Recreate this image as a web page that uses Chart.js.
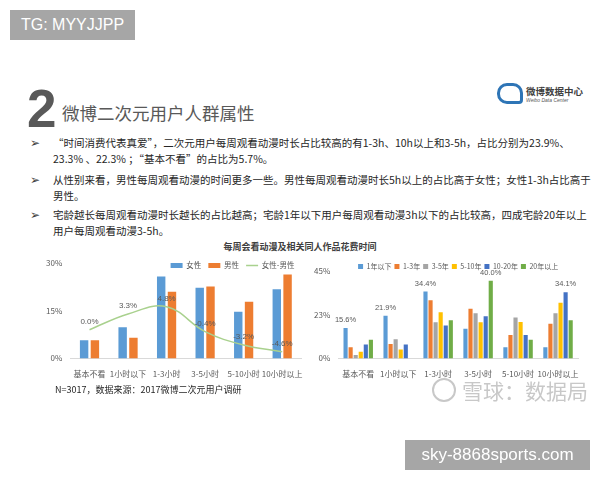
<!DOCTYPE html>
<html>
<head>
<meta charset="utf-8">
<script src="https://cdn.jsdelivr.net/npm/chart.js@4.4.1/dist/chart.umd.min.js"></script>
<style>
  body { margin: 0; width: 600px; height: 480px; background: #fff; position: relative; overflow: hidden;
         font-family: "Noto Sans CJK SC", "Noto Sans", sans-serif; }
  .abs { position: absolute; white-space: nowrap; }
  .tag { background: #a6a6a6; color: #fff; font-family: "Liberation Sans", Arial, sans-serif; }
  #tg { left: 10px; top: 10px; width: 125px; height: 30px; line-height: 30px; font-size: 16px; text-align: center; }
  #site { left: 405px; top: 440px; width: 185px; height: 30px; line-height: 30px; font-size: 17px; text-align: center; }
  #num { left: 27px; top: 82px; font-family: "Liberation Sans", Arial, sans-serif; font-weight: bold;
         font-size: 53px; line-height: 53px; color: #595959; }
  #head { left: 62px; top: 101px; font-size: 17.5px; line-height: 24px; color: #595959; }
  .bul { left: 30px; font-size: 10.5px; line-height: 15.5px; color: #262626; }
  .bul span { position: absolute; left: 0; top: -1px; font-size: 12px; color: #404040; }
  .bul div { margin-left: 23px; }
  #ctitle { left: 0; width: 600px; top: 240px; text-align: center; font-size: 9px; font-weight: bold; color: #404040; }
  #left { left: 38px; top: 250px; width: 268px; height: 134px; }
  #right { left: 306px; top: 258px; width: 276px; height: 126px; }
  #note { left: 55px; top: 383px; font-size: 9px; color: #262626; }
  #wm { left: 432px; top: 376px; font-size: 21px; line-height: 28px; color: #c8c8c8; }
  #wm i { display: inline-block; width: 20px; height: 20px; border: 2px solid #c8c8c8; border-radius: 50%;
          vertical-align: -3px; margin-right: 6px; }
  #logo { left: 497px; top: 83px; }
  #logo b { display: inline-block; width: 20px; height: 15px; border: 3px solid #2e75b6; border-radius: 10px 10px 4px 10px;
            vertical-align: top; }
  #logo .t1 { position: absolute; left: 29px; top: 1px; font-size: 9.5px; font-weight: bold; color: #404040; }
  #logo .t2 { position: absolute; left: 29px; top: 14px; font-size: 5px; font-family: "Liberation Sans", sans-serif; color: #595959; font-style: italic; }
</style>
</head>
<body>
<div class="abs tag" id="tg">TG: MYYJJPP</div>
<div class="abs" id="logo"><b></b><span class="t1">微博数据中心</span><span class="t2">Weibo Data Center</span></div>
<div class="abs" id="num">2</div>
<div class="abs" id="head">微博二次元用户人群属性</div>

<div class="abs bul" style="top:135px"><span>➢</span>
  <div>“时间消费代表真爱”，二次元用户每周观看动漫时长占比较高的有1-3h、10h以上和3-5h，占比分别为23.9%、</div>
  <div>23.3% 、22.3% ；“基本不看”的占比为5.7%。</div>
</div>
<div class="abs bul" style="top:172px"><span>➢</span>
  <div>从性别来看，男性每周观看动漫的时间更多一些。男性每周观看动漫时长5h以上的占比高于女性；女性1-3h占比高于</div>
  <div>男性。</div>
</div>
<div class="abs bul" style="top:207px"><span>➢</span>
  <div>宅龄越长每周观看动漫时长越长的占比越高；宅龄1年以下用户每周观看动漫3h以下的占比较高，四成宅龄20年以上</div>
  <div>用户每周观看动漫3-5h。</div>
</div>

<div class="abs" id="ctitle">每周会看动漫及相关同人作品花费时间</div>
<div class="abs" id="left"><canvas id="genderChart"></canvas></div>
<div class="abs" id="right"><canvas id="ageChart"></canvas></div>

<div class="abs" id="note">N=3017，数据来源：2017微博二次元用户调研</div>
<div class="abs" id="wm"><i></i>雪球：数据局</div>
<div class="abs tag" id="site">sky-8868sports.com</div>

<script>
// categories shared by both charts
const hours = ['基本不看', '1小时以下', '1-3小时', '3-5小时', '5-10小时', '10小时以上'];

// left: gender split (%)
const female = [5.7, 9.8, 25.7, 22.2, 14.6, 21.7];
const male = [5.7, 6.5, 20.9, 22.6, 17.8, 26.3];
const femaleMinusMale = [0.0, 3.3, 4.8, -0.4, -3.2, -4.6];
const genderTicks = [0, 15, 30];

// right: years as otaku (%)
const ageLabels = ['1年以下', '1-3年', '3-5年', '5-10年', '10-20年', '20年以上'];
const under1 = [15.6, 21.9, 34.4, 15.3, 5.8, 5.8];
const y1to3 = [5.7, 7.4, 30.0, 25.5, 12.1, 17.9];
const y3to5 = [1.7, 9.8, 18.6, 23.3, 21.0, 23.3];
const y5to10 = [3.4, 4.6, 23.8, 18.6, 18.8, 28.6];
const y10to20 = [7.2, 7.2, 16.9, 21.7, 12.1, 34.1];
const over20 = [9.6, 0, 19.7, 40.0, 9.6, 19.7];
const ageTicks = [0, 22.5, 45];
// [dataset, category] pairs that carry a value label
const ageLabelled = [[0, 0], [0, 1], [0, 2], [5, 3], [4, 5]];

const grey = '#595959';
const tickFont = { family: "'Noto Sans CJK SC', sans-serif", size: 8 };

// legend items: bars for bar series, a line for line series
function legendItems(chart) {
  const items = Chart.defaults.plugins.legend.labels.generateLabels(chart);
  items.forEach(it => {
    const ds = chart.data.datasets[it.datasetIndex];
    if (ds.type === 'line') {
      it.pointStyle = 'line';
      it.strokeStyle = ds.borderColor;
      it.lineWidth = 1.5;
    } else {
      it.pointStyle = 'rect';
      it.fillStyle = ds.backgroundColor;
      it.lineWidth = 0;
    }
  });
  return items;
}

// legend reserves only `h` px so it sits over the top of the plot like the slide
function compactLegend(h) {
  return {
    id: 'compactLegend',
    beforeLayout(chart) {
      const lg = chart.legend;
      if (lg && !lg._compact) {
        const fit = lg.fit;
        lg.fit = function () { fit.call(this); this._fullH = this.height; this.height = h; };
        lg._compact = true;
      }
    },
    afterLayout(chart) {
      // give the box its real height back so nothing gets clipped
      const lg = chart.legend;
      lg.height = lg._fullH;
      lg.bottom = lg.top + lg._fullH;
    }
  };
}

// draws "x.x%" above the chosen points
function valueLabels(pairs, font) {
  return {
    id: 'valueLabels',
    afterDatasetsDraw(chart) {
      const ctx = chart.ctx;
      ctx.save();
      ctx.font = font;
      ctx.fillStyle = grey;
      ctx.textAlign = 'center';
      ctx.textBaseline = 'bottom';
      pairs().forEach(([d, i]) => {
        const el = chart.getDatasetMeta(d).data[i];
        const v = chart.data.datasets[d].data[i];
        ctx.fillText(v.toFixed(1) + '%', el.x, el.y - 4);
      });
      ctx.restore();
    }
  };
}

function legendOpts(align, boxW, pad, size) {
  return {
    position: 'top',
    align: align,
    fullSize: false,
    labels: {
      usePointStyle: true,
      pointStyleWidth: boxW,
      boxHeight: 5,
      padding: pad,
      color: grey,
      font: { family: "'Noto Sans CJK SC', sans-serif", size: size },
      sort: (a, b) => a.datasetIndex - b.datasetIndex,
      generateLabels: legendItems
    }
  };
}

// ===== LEFT — 女性 / 男性 =====
new Chart(document.getElementById('genderChart'), {
  type: 'bar',
  data: {
    labels: hours,
    datasets: [
      { label: '女性', data: female, backgroundColor: '#5b9bd5', order: 1,
        categoryPercentage: 0.56, barPercentage: 0.78 },
      { label: '男性', data: male, backgroundColor: '#ed7d31', order: 1,
        categoryPercentage: 0.56, barPercentage: 0.78 },
      { type: 'line', label: '女性-男性', data: femaleMinusMale, yAxisID: 'y2', order: 0,
        borderColor: '#a9d18e', backgroundColor: '#a9d18e', borderWidth: 1.5,
        tension: 0.4, pointRadius: 0 }
    ]
  },
  options: {
    responsive: true,
    maintainAspectRatio: false,
    animation: false,
    layout: { padding: { top: 2, right: 4, bottom: 2 } },
    plugins: {
      legend: legendOpts('end', 12, 7, 7.5),
      tooltip: { enabled: false }
    },
    scales: {
      x: {
        grid: { display: false },
        border: { display: true, color: '#d9d9d9' },
        ticks: { color: grey, font: tickFont, maxRotation: 0, autoSkip: false, padding: 3 }
      },
      y: {
        min: 0, max: 30,
        afterBuildTicks: axis => { axis.ticks = genderTicks.map(v => ({ value: v })); },
        grid: { display: false, drawTicks: false },
        border: { display: false },
        ticks: { color: grey, font: tickFont, padding: 8, callback: v => v + '%' }
      },
      y2: { min: -6, max: 14, display: false }
    }
  },
  plugins: [
    compactLegend(8),
    valueLabels(() => femaleMinusMale.map((v, i) => [2, i]), "8px 'Liberation Sans', sans-serif")
  ]
});

// ===== RIGHT — 宅龄 =====
const ageColors = ['#5b9bd5', '#ed7d31', '#a5a5a5', '#ffc000', '#4472c4', '#70ad47'];
const ageSeries = [under1, y1to3, y3to5, y5to10, y10to20, over20];

new Chart(document.getElementById('ageChart'), {
  type: 'bar',
  data: {
    labels: hours,
    datasets: ageSeries.map((s, k) => ({
      label: ageLabels[k], data: s, backgroundColor: ageColors[k],
      categoryPercentage: 0.76, barPercentage: 0.82
    }))
  },
  options: {
    responsive: true,
    maintainAspectRatio: false,
    animation: false,
    layout: { padding: { top: 2, right: 4, bottom: 2 } },
    plugins: {
      legend: legendOpts('center', 5, 3, 7),
      tooltip: { enabled: false }
    },
    scales: {
      x: {
        grid: { display: false },
        border: { display: true, color: '#d9d9d9' },
        ticks: { color: grey, font: tickFont, maxRotation: 0, autoSkip: false, padding: 3 }
      },
      y: {
        min: 0, max: 45,
        afterBuildTicks: axis => { axis.ticks = ageTicks.map(v => ({ value: v })); },
        grid: { display: false, drawTicks: false },
        border: { display: false },
        ticks: { color: grey, font: tickFont, padding: 8, callback: v => Math.round(v) + '%' }
      }
    }
  },
  plugins: [
    compactLegend(11),
    valueLabels(() => ageLabelled, "7.5px 'Liberation Sans', sans-serif")
  ]
});
</script>
</body>
</html>
